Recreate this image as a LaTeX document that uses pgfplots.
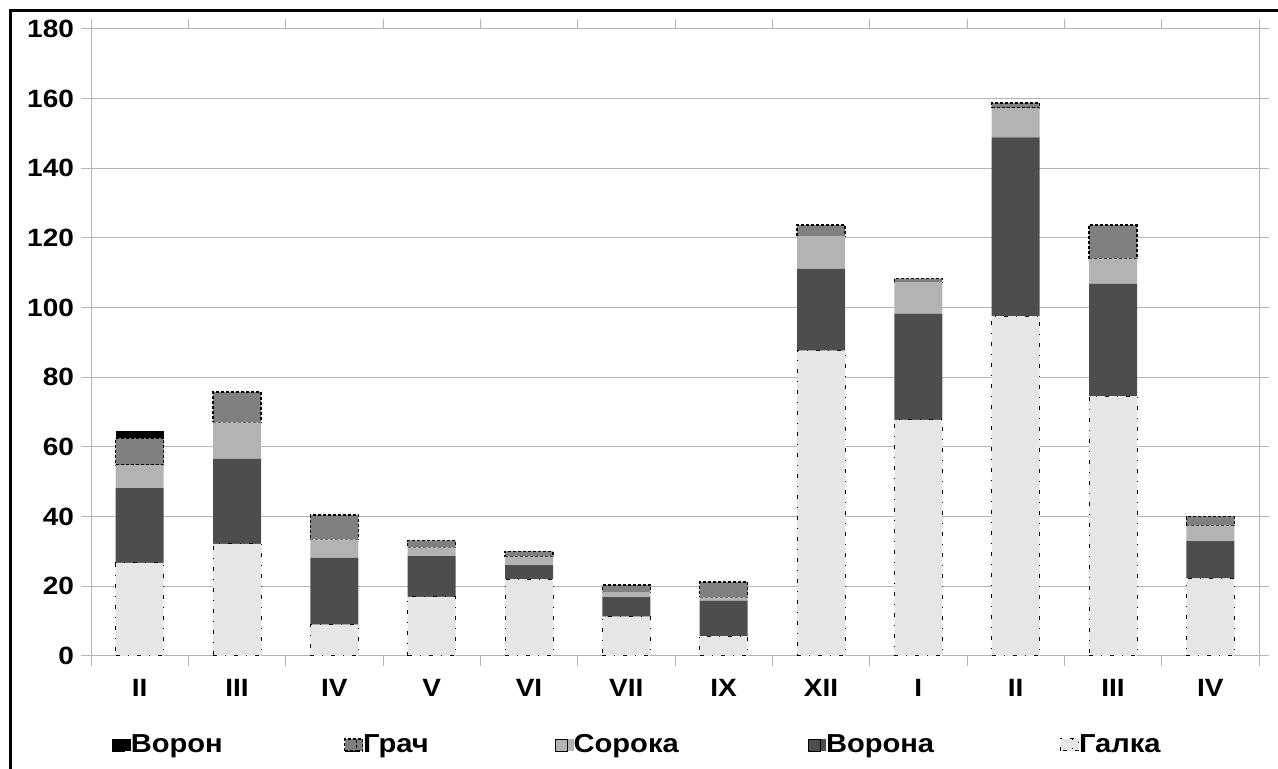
\documentclass[border=0pt]{standalone}
\usepackage{pgfplots}
\pgfplotsset{compat=1.18}
\usepackage{pgfplotstable}
\usepackage{fontspec}
\setmainfont{Liberation Sans}[FakeStretch=1.12]
\definecolor{cVoron}{HTML}{000000}
\definecolor{cGrach}{HTML}{808080}
\definecolor{cSoroka}{HTML}{B3B3B3}
\definecolor{cVorona}{HTML}{4D4D4D}
\definecolor{cGalka}{HTML}{E6E6E6}
\definecolor{gridc}{HTML}{B3B3B3}
\pgfplotstableread{
x Galka Vorona Soroka Grach Voron
0 26.7 21.5 6.6 7.8 2.0
1 32.2 24.4 10.5 8.7 0
2 9.0 19.2 5.3 7.0 0
3 17.0 11.7 2.5 1.9 0
4 22.1 4.0 2.4 1.5 0
5 11.3 5.6 1.4 2.1 0
6 5.7 10.2 0.9 4.4 0
7 87.7 23.4 9.4 3.2 0
8 67.8 30.5 9.0 1.0 0
9 97.6 51.3 8.4 1.5 0
10 74.6 32.2 7.3 9.6 0
11 22.3 10.7 4.4 2.6 0
}\datatable
\pgfplotsset{sqlegend/.style={legend image code/.code={%
    \path (0pt,-3pt) rectangle (9pt,3pt);
    \draw[##1] (0pt,-3pt) rectangle (6pt,3pt);}}}
\begin{document}
\begin{tikzpicture}
\path[use as bounding box] (-45.5pt,-56.5pt) rectangle (593.5pt,328pt);
\draw[line width=1.5pt] (-40pt,-56.5pt) -- (-40pt,322.5pt) -- (593.5pt,322.5pt);
\begin{axis}[
  at={(0pt,0pt)}, anchor=south west,
  scale only axis,
  width=584pt, height=313.5pt,
  ybar stacked, bar width=24pt,
  every axis plot post/.append style={sqlegend},
  xmin=-0.5, xmax=11.5,
  ymin=0, ymax=180,
  ytick={0,20,...,180},
  xtick={0,...,11},
  xticklabels={II,III,IV,V,VI,VII,IX,XII,I,II,III,IV},
  minor xtick={-0.5,0.5,...,11.5},
  major x tick style={draw=none},
  minor x tick style={gridc, line width=0.5pt},
  y tick style={gridc, line width=0.5pt},
  tick align=outside,
  major tick length=5pt, minor tick length=5pt,
  ymajorgrids, grid style={gridc, line width=0.5pt},
  axis line style={gridc, line width=0.5pt},
  /pgf/number format/assume math mode=true,
  ticklabel style={font=\fontsize{12.5}{14}\selectfont\bfseries},
  xticklabel style={yshift=-3pt},
  reverse legend,
  legend columns=5,
  legend style={at={(10.5pt,-44.5pt)}, anchor=west, draw=none, fill=none,
    inner sep=0pt, column sep=0pt,
    font=\fontsize{13}{15}\selectfont\bfseries,
    nodes={inner sep=0pt, anchor=west}},
]
\addplot[fill=cGalka, draw=black, line width=0.5pt, dash pattern=on 2pt off 4pt on 0.5pt off 4pt] table[x=x,y=Galka]{\datatable};
\addlegendentry{Галка}
\addplot[fill=cVorona, draw=none] table[x=x,y=Vorona]{\datatable};
\addlegendentry{\makebox[117pt][l]{Ворона}}
\addplot[fill=cSoroka, draw=none] table[x=x,y=Soroka]{\datatable};
\addlegendentry{\makebox[117pt][l]{Сорока}}
\addplot[fill=cGrach, draw=black, line width=0.7pt, dash pattern=on 1.5pt off 1pt] table[x=x,y=Grach]{\datatable};
\addlegendentry{\makebox[96pt][l]{Грач}}
\addplot[fill=cVoron, draw=none] table[x=x,y=Voron]{\datatable};
\addlegendentry{\makebox[106.5pt][l]{Ворон}}
\end{axis}
\end{tikzpicture}
\end{document}
